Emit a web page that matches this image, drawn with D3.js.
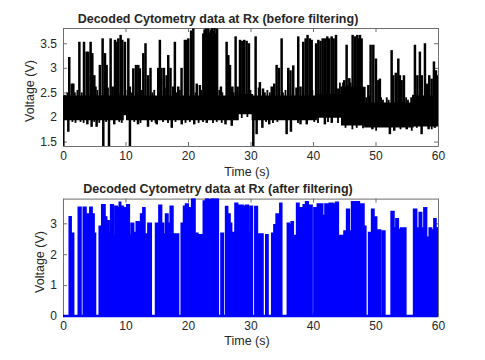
<!DOCTYPE html>
<html>
<head>
<meta charset="utf-8">
<script src="https://cdn.jsdelivr.net/npm/d3@7"></script>
<style>
body { margin: 0; background: #fff; }
svg text { font-family: "Liberation Sans", Arial, sans-serif; fill: #262626; }
.axis path, .axis line { stroke: #6e6e6e; stroke-width: 1; }
</style>
</head>
<body>
<div id="chart"></div>
<script>
// raw decoded signal (before filtering): noise band [t, low, high], peaks and dips [t, volts]
var rawBand = [[0, 1.95, 2.42], [9.6, 2.05, 2.42], [10.2, 1.95, 2.42], [28.0, 2.07, 2.45], [30.3, 1.95, 2.42],
    [40.5, 2.0, 2.45], [44.6, 1.84, 2.6], [48.3, 1.8, 2.28], [56.0, 1.82, 2.42], [60, 1.82, 2.42]];

var rawPeaks = [[1.0, 3.22], [1.4, 2.68], [1.65, 2.68], [2.62, 3.53], [3.36, 3.53], [3.78, 3.33], [4.05, 3.33],
    [4.42, 3.53], [4.69, 3.3], [5.01, 2.85], [5.2, 2.62], [5.9, 3.06], [6.34, 3.6], [6.72, 3.3], [6.98, 3.06],
    [7.62, 3.6], [7.95, 2.62], [8.32, 3.57], [8.58, 3.53], [8.85, 3.6], [9.22, 3.67], [9.49, 3.57], [9.91, 3.53],
    [10.45, 3.6], [10.7, 2.62], [11.25, 2.99], [11.67, 3.06], [12.05, 3.06], [12.3, 2.99], [12.85, 3.3], [13.2, 3.5],
    [13.6, 2.85], [14.0, 3.0], [15.24, 3.0], [15.5, 3.57], [15.75, 3.0], [16.15, 3.0], [16.58, 2.85], [16.84, 3.26],
    [17.2, 3.0], [17.64, 2.62], [17.9, 3.53], [18.44, 2.62], [18.97, 3.0], [19.5, 3.57], [19.77, 3.57], [20.05, 3.6],
    [20.5, 3.76], [20.85, 3.8], [21.4, 2.68], [21.9, 2.65], [22.45, 3.7], [22.65, 3.78], [22.85, 3.8], [23.05, 3.68],
    [23.25, 3.8], [23.45, 3.72], [23.65, 3.78], [23.85, 3.81], [24.05, 3.75], [24.25, 3.81], [24.45, 3.7], [24.65, 3.8],
    [25.27, 2.62], [26.18, 3.53], [26.45, 3.26], [26.72, 3.06],
    [27.1, 2.62], [27.62, 3.64], [27.94, 2.62], [28.32, 3.57], [28.69, 3.55], [29.0, 3.57], [29.38, 3.55], [29.75, 3.5],
    [30.82, 3.64], [31.5, 2.71], [32.0, 2.58], [33.4, 2.62], [33.8, 2.68], [34.18, 3.06], [34.55, 3.0], [34.98, 3.6],
    [36.04, 3.0], [36.4, 2.95], [36.84, 3.05], [37.64, 3.64], [38.0, 2.62], [38.44, 3.53], [38.82, 3.6], [39.13, 3.67],
    [39.5, 3.6], [39.79, 3.57], [40.5, 3.5], [40.85, 3.57], [41.2, 3.55], [41.55, 3.6], [41.9, 3.6], [42.29, 3.64],
    [42.6, 3.6], [42.98, 3.64], [43.3, 3.6], [43.68, 3.67], [44.05, 2.58], [44.58, 2.62], [45.0, 2.75], [45.38, 3.47],
    [45.81, 2.79], [46.34, 3.67], [46.72, 3.64], [47.09, 3.67], [47.3, 3.6], [47.52, 3.67], [47.78, 3.6], [48.85, 2.65],
    [49.22, 3.47], [49.65, 3.47], [50.07, 3.19], [50.45, 2.75], [50.7, 2.78], [52.58, 3.36], [52.85, 2.85], [53.25, 2.9],
    [53.65, 3.19], [53.9, 2.85], [54.18, 2.75], [54.55, 2.85], [56.31, 3.47], [56.7, 2.85], [57.1, 3.33], [57.4, 2.85],
    [57.91, 3.5], [58.28, 2.68], [58.6, 2.85], [58.98, 2.78], [59.35, 3.13], [59.67, 2.95], [60.0, 2.85]];

// small ripples on the top and bottom edges of the noise band
var rawRipplesUp = [[0.3, 2.45], [0.7, 2.5], [1.9, 2.5], [2.3, 2.55], [3.0, 2.5], [5.5, 2.55], [7.2, 2.6], [8.9, 2.5],
    [10.0, 2.55], [11.0, 2.5], [12.6, 2.55], [14.3, 2.5], [14.6, 2.55], [16.3, 2.6], [18.2, 2.5], [18.7, 2.55],
    [21.2, 2.5], [22.1, 2.55], [25.0, 2.55], [25.5, 2.5], [26.9, 2.6], [27.3, 2.5], [30.0, 2.55], [31.3, 2.6],
    [32.3, 2.5], [32.7, 2.55], [33.1, 2.5], [35.2, 2.5], [35.6, 2.55], [37.3, 2.6], [39.9, 2.55], [44.3, 2.7],
    [44.8, 2.7], [45.6, 2.65], [46.0, 2.7], [48.0, 2.6], [48.5, 2.4], [49.0, 2.45], [50.9, 2.4], [51.2, 2.35],
    [51.8, 2.4], [52.1, 2.35], [54.9, 2.4], [55.2, 2.35], [55.7, 2.4], [56.0, 2.45], [58.0, 2.55], [59.8, 2.6]];

var rawRipplesDown = [[1.5, 1.9], [2.0, 1.88], [2.8, 1.9], [3.3, 1.88], [5.0, 1.9], [5.8, 1.88], [6.9, 1.9],
    [9.0, 1.9], [9.4, 1.88], [11.4, 1.9], [12.4, 1.88], [14.2, 1.9], [14.8, 1.88], [16.0, 1.9], [16.8, 1.88],
    [18.0, 1.9], [19.6, 1.88], [20.3, 1.9], [21.7, 1.88], [22.4, 1.9], [24.0, 1.88], [24.6, 1.9], [25.4, 1.88],
    [28.6, 1.98], [29.5, 2.0], [32.5, 1.9], [33.6, 1.88], [34.3, 1.9], [37.6, 1.88], [40.2, 1.9], [40.8, 1.88],
    [42.4, 1.9], [44.0, 1.88], [45.2, 1.78], [46.3, 1.75], [47.0, 1.78], [48.0, 1.77], [50.1, 1.72], [54.0, 1.75],
    [55.8, 1.72], [56.6, 1.78], [59.0, 1.75]];

var rawDips = [[0.05, 1.4], [0.85, 1.7], [3.9, 1.85], [4.58, 1.8], [5.38, 1.8], [6.45, 1.4], [7.36, 1.4], [8.2, 1.85],
    [10.71, 1.4], [12.0, 1.85], [13.6, 1.8], [15.0, 1.85], [17.4, 1.78], [19.0, 1.85], [21.0, 1.85], [23.0, 1.88],
    [26.0, 1.85], [27.0, 1.82], [30.45, 1.4], [30.98, 1.65], [31.9, 1.78], [33.0, 1.85], [35.78, 1.65], [36.47, 1.7],
    [38.0, 1.85], [39.0, 1.85], [41.9, 1.85], [43.0, 1.88], [49.5, 1.75], [51.0, 1.8], [52.3, 1.65], [53.0, 1.72],
    [55.0, 1.75], [57.38, 1.65], [58.5, 1.75], [59.5, 1.78]];

// filtered signal: step levels [t, volts], each held until the next t
var filteredSteps = [[0, 0], [1.0, 3.21], [1.3, 2.68], [1.7, 0], [2.45, 3.52], [2.88, 0], [3.25, 3.52], [3.68, 3.3],
    [4.3, 3.52], [4.65, 3.3], [4.97, 2.68], [5.2, 0], [5.8, 2.9], [6.2, 3.6], [6.72, 3.2], [6.99, 3.08], [7.36, 2.68],
    [7.45, 0], [7.63, 3.6], [8.05, 2.6], [8.32, 3.55], [8.69, 3.5], [9.01, 3.68], [9.23, 3.55], [9.65, 3.5], [10.0, 0],
    [10.2, 3.6], [10.61, 2.62], [10.9, 3.0], [11.3, 2.7], [11.72, 3.05], [12.15, 3.0], [12.42, 3.3], [12.79, 3.5],
    [13.11, 2.65], [13.59, 3.0], [14.12, 0], [14.81, 3.0], [15.35, 3.58], [15.77, 3.0], [16.09, 2.65], [16.41, 3.3],
    [16.79, 3.0], [17.16, 3.55], [17.59, 2.65], [18.49, 0], [18.92, 3.0], [19.29, 3.55], [19.61, 3.62], [20.05, 3.5],
    [20.59, 3.8], [21.12, 2.68], [21.58, 0], [21.7, 2.63], [22.45, 3.72], [22.83, 3.83], [23.3, 3.76], [23.7, 3.8],
    [24.1, 3.85], [24.5, 3.8], [24.85, 0], [25.28, 2.68], [25.65, 0], [26.02, 3.54], [26.34, 3.3], [26.72, 3.0],
    [26.98, 2.7], [27.52, 3.65], [27.94, 2.7], [28.2, 3.58], [28.8, 3.55], [29.2, 3.58], [29.65, 2.7], [29.92, 3.55],
    [30.3, 0], [30.7, 3.54], [31.1, 2.65], [32.0, 0], [32.45, 2.63], [32.8, 0], [33.4, 2.68], [33.75, 2.95], [34.1, 3.3],
    [34.45, 3.0], [34.7, 3.65], [35.0, 0], [35.9, 3.0], [36.2, 2.95], [36.5, 3.05], [36.84, 2.6], [37.38, 3.65],
    [37.75, 3.5], [38.18, 2.6], [38.44, 3.6], [38.82, 3.7], [39.24, 3.58], [39.85, 0], [40.15, 3.5], [40.69, 3.62],
    [41.55, 3.25], [41.92, 3.62], [42.6, 3.65], [43.2, 0], [43.32, 3.62], [43.6, 3.68], [44.05, 2.6], [44.96, 2.75],
    [45.38, 3.45], [45.81, 2.75], [46.18, 3.7], [47.41, 3.62], [48.15, 2.9], [48.45, 0], [48.9, 2.7], [49.38, 3.45],
    [49.75, 3.2], [50.18, 2.78], [50.82, 0], [51.1, 2.75], [51.5, 0], [52.5, 3.38], [52.95, 2.85], [53.27, 3.15],
    [53.65, 2.8], [54.02, 2.85], [54.85, 0], [56.1, 3.45], [56.58, 2.85], [57.0, 3.35], [57.38, 2.85], [57.75, 3.5],
    [58.17, 2.55], [58.6, 2.85], [58.98, 2.78], [59.35, 3.15], [59.67, 2.85], [60, 2.85]];

var timeTicks = [0, 10, 20, 30, 40, 50, 60];
var rawTicks = [1.5, 2, 2.5, 3, 3.5];
var filteredTicks = [0, 1, 2, 3];

var width = 485;
var height = 360;
var left = 63;
var right = 438;

var svg = d3.select("#chart")
    .append("svg")
    .attr("width", width)
    .attr("height", height);

var x = d3.scaleLinear().domain([0, 60]).range([left, right]);
var yTop = d3.scaleLinear().domain([1.41, 3.81]).range([146, 28]);
var yBot = d3.scaleLinear().domain([0, 3.8]).range([316, 198.6]);

var fmt = d3.format("~g");

function drawBox(y, yTicks, top, bottom) {
    svg.append("g").attr("class", "axis")
        .attr("transform", "translate(0," + bottom + ")")
        .call(d3.axisBottom(x).tickValues(timeTicks).tickSizeInner(-4).tickSizeOuter(0).tickPadding(5).tickFormat(fmt))
        .selectAll("text").attr("font-size", 12);
    svg.append("g").attr("class", "axis")
        .attr("transform", "translate(0," + top + ")")
        .call(d3.axisTop(x).tickValues(timeTicks).tickSizeInner(-4).tickSizeOuter(0).tickFormat(""));
    svg.append("g").attr("class", "axis")
        .attr("transform", "translate(" + left + ",0)")
        .call(d3.axisLeft(y).tickValues(yTicks).tickSizeInner(-4).tickSizeOuter(0).tickPadding(6).tickFormat(fmt))
        .selectAll("text").attr("font-size", 12);
    svg.append("g").attr("class", "axis")
        .attr("transform", "translate(" + right + ",0)")
        .call(d3.axisRight(y).tickValues(yTicks).tickSizeInner(-4).tickSizeOuter(0).tickFormat(""));
    svg.selectAll(".axis text").attr("fill", "#262626").style("font-family", "'Liberation Sans', Arial, sans-serif");
}

drawBox(yTop, rawTicks, 28, 146);
drawBox(yBot, filteredTicks, 198.6, 316);

// clip regions
var defs = svg.append("defs");
defs.append("clipPath").attr("id", "clipTop")
    .append("rect").attr("x", left).attr("y", 28).attr("width", right - left).attr("height", 118);
defs.append("clipPath").attr("id", "clipBot")
    .append("rect").attr("x", left).attr("y", 198.6).attr("width", right - left).attr("height", 120);

// top: before filtering
var gTop = svg.append("g").attr("clip-path", "url(#clipTop)");

gTop.append("path")
    .datum(rawBand)
    .attr("fill", "#000")
    .attr("stroke", "#000")
    .attr("stroke-width", 1.5)
    .attr("d", d3.area().curve(d3.curveStepAfter)
        .x(function(d) { return x(d[0]); })
        .y0(function(d) { return yTop(d[1]); })
        .y1(function(d) { return yTop(d[2]); }));

function spikes(data, base, w) {
    gTop.append("g")
        .selectAll("line")
        .data(data)
        .enter().append("line")
        .attr("x1", function(d) { return x(d[0]); })
        .attr("x2", function(d) { return x(d[0]); })
        .attr("y1", yTop(base))
        .attr("y2", function(d) { return yTop(d[1]); })
        .attr("stroke", "#000")
        .attr("stroke-width", w);
}

spikes(rawRipplesUp, 2.2, 1.8);
spikes(rawRipplesDown, 2.1, 1.8);
spikes(rawPeaks, 2.2, 2.5);
spikes(rawDips, 2.1, 2.5);

// bottom: after filtering
var gBot = svg.append("g").attr("clip-path", "url(#clipBot)");

gBot.append("path")
    .datum(filteredSteps)
    .attr("fill", "#0000ff")
    .attr("d", d3.area().curve(d3.curveStepAfter)
        .x(function(d) { return x(d[0]); })
        .y0(yBot(0))
        .y1(function(d) { return yBot(d[1]); }));

gBot.append("path")
    .datum(filteredSteps)
    .attr("fill", "none")
    .attr("stroke", "#0000ff")
    .attr("stroke-width", 1.6)
    .attr("d", d3.line().curve(d3.curveStepAfter)
        .x(function(d) { return x(d[0]); })
        .y(function(d) { return yBot(d[1]); }));

gBot.append("line")
    .attr("x1", x(0)).attr("x2", x(60))
    .attr("y1", yBot(0)).attr("y2", yBot(0))
    .attr("stroke", "#0000ff")
    .attr("stroke-width", 2.6);

// titles and labels
function label(txt, xp, yp, size, bold, rot) {
    var t = svg.append("text")
        .attr("text-anchor", "middle")
        .attr("font-size", size)
        .attr("font-weight", bold ? "bold" : "normal")
        .text(txt);
    if (rot) {
        t.attr("transform", "translate(" + xp + "," + yp + ")rotate(-90)");
    } else {
        t.attr("x", xp).attr("y", yp);
    }
}

label("Decoded Cytometry data at Rx (before filtering)", 218, 23, 12.5, true);
label("Time (s)", 247, 176, 12.5, false);
label("Voltage (V)", 34, 91, 12.5, false, true);

label("Decoded Cytometry data at Rx (after filtering)", 218, 193, 12.5, true);
label("Time (s)", 247, 345, 12.5, false);
label("Voltage (V)", 44, 262, 12.5, false, true);
</script>
</body>
</html>
